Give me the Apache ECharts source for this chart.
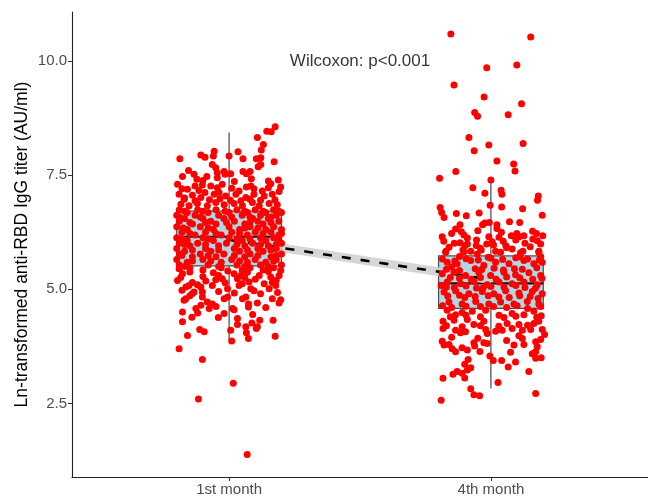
<!DOCTYPE html>
<html>
<head>
<meta charset="utf-8">
<script src="https://cdn.jsdelivr.net/npm/echarts@6/dist/echarts.min.js"></script>
<style>
  html, body { margin: 0; padding: 0; background: #fff; }
  #chart { width: 648px; height: 500px; }
</style>
</head>
<body>
<div id="chart"></div>
<script>
// groups and tick labels
const categories = ['1st month', '4th month'];
const yTicks = [2.5, 5.0, 7.5, 10.0];

// box stats: [x, whiskerLow, q1, median, q3, whiskerHigh]
const boxStats = [
  [1, 3.88, 5.51, 6.15, 6.71, 8.43],
  [2, 2.83, 4.58, 5.13, 5.73, 7.39]
];

// trend line through group means and its confidence band
const trendX = [1, 2];
const trendY = [6.08, 5.21];
const bandLow = [5.99, 5.11];
const bandHigh = [6.17, 5.31];

// jittered observations [x, y]
const month1Points = [
  [1.176,8.56],[1.144,8.46],[1.161,8.45],[1.108,8.32],[1.131,8.17],[1.123,8.05],
  [0.812,7.86],[0.892,7.94],[0.908,7.89],[0.943,8.02],[0.940,7.92],[1.000,7.92],[1.034,8.01],[1.053,7.86],[1.104,7.86],[1.121,7.88],[1.172,7.79],
  [0.845,7.60],[0.822,7.47],[0.866,7.52],[0.877,7.41],[0.915,7.47],[0.936,7.73],[0.949,7.66],[0.955,7.55],[0.981,7.58],[0.985,7.52],[1.006,7.53],[0.955,7.44],[1.053,7.58],[1.066,7.53],[1.080,7.58],[1.111,7.68],[1.121,7.73],[1.150,7.37],[1.188,7.39],[1.159,7.31],
  [0.803,7.30],[0.841,7.19],[0.870,7.26],[0.898,7.28],[0.930,7.26],[0.974,7.30],[1.010,7.21],[1.038,7.15],[1.066,7.24],[1.083,7.26],[1.127,7.15],[1.197,7.24],
  [1.020,7.36],[0.900,7.38],[1.085,7.42],[0.820,7.20],[0.885,7.16],[0.955,7.22],[1.095,7.20],[1.150,7.22],
  [0.809,7.08],[0.828,6.97],[0.860,7.06],[0.892,7.01],[0.908,7.12],[0.943,7.08],[0.962,7.12],[0.987,7.04],[1.026,7.08],[1.064,7.01],[1.095,7.08],[1.134,7.04],[1.165,7.08],[1.191,7.14],
  [0.830,7.00],[0.870,6.94],[0.925,6.96],[0.965,6.98],[1.005,6.95],[1.045,6.94],[1.080,6.97],[1.120,6.95],[1.175,6.96],
  [0.816,6.86],[0.847,6.83],[0.879,6.88],[0.917,6.83],[0.949,6.90],[0.981,6.85],[1.019,6.88],[1.051,6.83],[1.089,6.90],[1.115,6.83],[1.153,6.88],[1.184,6.85],
  [0.810,6.74],[0.880,6.74],[0.950,6.74],[1.030,6.74],[1.100,6.74],[1.170,6.74],
  [0.830,6.71],[0.900,6.71],[0.985,6.71],[1.060,6.71],[1.130,6.71],[1.190,6.71],
  [0.840,6.68],[0.920,6.68],[1.000,6.68],[1.070,6.68],[1.140,6.68],[1.200,6.68],
  [0.800,6.62],[0.870,6.62],[0.960,6.62],[1.050,6.62],[1.120,6.62],[1.180,6.62],
  [0.810,6.58],[0.890,6.58],[1.010,6.58],[1.080,6.58],[1.160,6.58],
  [0.830,6.55],[0.900,6.55],[0.980,6.55],[1.090,6.55],[1.150,6.55],
  [0.810,6.49],[0.930,6.49],[1.020,6.49],[1.110,6.49],[1.190,6.49],
  [0.850,6.46],[0.910,6.46],[0.990,6.46],[1.080,6.46],[1.160,6.46],
  [0.860,6.43],[0.950,6.43],[1.060,6.43],[1.130,6.43],
  [0.800,6.37],[0.890,6.37],[1.000,6.37],[1.080,6.37],[1.170,6.37],
  [0.825,6.34],[0.920,6.34],[1.060,6.34],[1.110,6.34],
  [0.840,6.31],[0.940,6.31],[1.040,6.31],[1.140,6.31],[1.200,6.31],
  [0.820,6.25],[0.910,6.25],[1.010,6.25],[1.100,6.25],[1.160,6.25],
  [0.850,6.22],[0.950,6.22],[1.040,6.22],[1.130,6.22],[1.200,6.22],
  [0.870,6.19],[0.970,6.19],[1.070,6.19],[1.190,6.19],
  [0.800,6.13],[0.900,6.13],[1.000,6.13],[1.120,6.13],[1.170,6.13],
  [0.820,6.10],[0.920,6.10],[1.030,6.10],[1.080,6.10],[1.190,6.10],
  [0.840,6.07],[0.940,6.07],[1.050,6.07],[1.140,6.07],
  [0.810,6.01],[0.880,6.01],[0.990,6.01],[1.090,6.01],[1.200,6.01],
  [0.830,5.98],[0.910,5.98],[1.030,5.98],[1.120,5.98],[1.180,5.98],
  [0.850,5.95],[0.960,5.95],[1.060,5.95],[1.150,5.95],
  [0.800,5.89],[0.910,5.89],[1.020,5.89],[1.110,5.89],[1.180,5.89],
  [0.860,5.86],[0.960,5.86],[1.070,5.86],[1.160,5.86],
  [0.830,5.83],[0.930,5.83],[1.040,5.83],[1.130,5.83],
  [0.810,5.77],[0.890,5.77],[0.980,5.77],[1.080,5.77],[1.200,5.77],
  [0.820,5.74],[0.920,5.74],[1.020,5.74],[1.110,5.74],[1.180,5.74],
  [0.860,5.71],[0.950,5.71],[1.060,5.71],[1.160,5.71],
  [0.800,5.65],[0.900,5.65],[1.010,5.65],[1.100,5.65],[1.180,5.65],
  [0.860,5.62],[0.930,5.62],[1.040,5.62],[1.170,5.62],
  [0.840,5.59],[0.970,5.59],[1.070,5.59],[1.140,5.59],
  [0.810,5.53],[0.920,5.53],[1.030,5.53],[1.120,5.53],[1.200,5.53],
  [0.830,5.50],[0.960,5.50],[1.060,5.50],[1.150,5.50],
  [0.850,5.47],[0.970,5.47],[1.080,5.47],[1.170,5.47],[0.900,5.42],[1.050,5.42],[1.130,5.42],
  [0.850,5.38],[0.940,5.36],[0.995,5.40],[1.070,5.37],[1.150,5.39],
  [0.815,5.26],[0.900,5.28],[0.960,5.30],[1.060,5.26],[1.100,5.22],[1.180,5.20],
  [0.860,5.15],[0.985,5.14],[1.050,5.12],[1.165,5.15],
  [0.803,5.19],[0.809,5.45],[0.822,5.34],[0.835,5.05],[0.847,5.08],[0.866,4.94],[0.892,5.05],[0.879,5.10],[0.898,4.94],[0.911,5.18],[0.936,5.08],[0.949,5.21],[0.974,5.23],[0.994,5.01],
  [1.019,5.34],[1.032,5.23],[1.045,5.30],[1.038,5.08],[1.076,5.16],[1.083,5.01],[1.095,4.97],[1.115,5.30],[1.134,5.12],[1.153,5.01],[1.159,5.27],[1.178,5.08],[1.191,5.30],[1.197,5.41],
  [0.820,4.98],[0.960,4.95],[1.020,4.92],[1.120,4.90],[1.185,4.93],[0.850,4.86],
  [0.828,4.76],[0.835,4.79],[0.860,4.91],[0.898,4.83],[0.917,4.72],[0.936,4.68],[0.892,4.65],[0.873,4.58],[0.924,4.58],[0.981,4.79],[0.994,4.83],[1.051,4.79],[1.064,4.83],[1.074,4.68],[1.074,4.61],[1.108,4.70],[1.165,4.79],[1.191,4.70],[1.197,4.77],
  [0.950,4.62],[1.140,4.60],[1.090,4.45],[0.880,4.48],
  [0.822,4.50],[0.822,4.29],[0.858,4.39],[0.959,4.38],[0.981,4.47],[1.013,4.58],[1.019,4.55],[1.032,4.36],[1.032,4.23],[1.117,4.32],[1.168,4.32],
  [0.841,3.99],[0.888,4.12],[0.905,4.07],[1.006,4.10],[1.010,3.87],[1.064,4.18],[1.066,4.05],[1.074,3.92],[1.087,4.26],[1.104,4.14],[1.108,4.18],[1.176,3.97],
  [0.809,3.70],[0.898,3.46],[0.883,2.60],[1.016,2.94],[1.069,1.38]
];

const month4Points = [
  [1.847,10.59],[2.152,10.52],[1.984,9.85],[2.099,9.91],[1.859,9.47],[1.974,9.21],[2.117,9.06],[1.938,8.87],[1.949,8.79],[2.066,8.82],
  [1.916,8.32],[1.992,8.16],[2.123,8.19],[1.936,8.03],[2.023,7.81],[2.087,7.74],
  [1.804,7.43],[1.866,7.58],[2.092,7.59],[2.000,7.39],[1.931,7.22],[2.039,7.17],[2.042,7.08],[1.977,7.10],[2.181,7.04],[2.178,6.95],
  [1.806,6.79],[1.812,6.68],[1.821,6.57],[1.868,6.66],[1.906,6.61],[1.955,6.67],[1.997,6.84],[2.041,6.80],[2.121,6.76],[2.196,6.62],
  [1.882,6.41],[1.968,6.41],[1.977,6.45],[1.994,6.46],[2.023,6.41],[2.023,6.33],[2.071,6.48],[2.110,6.46],
  [1.865,6.32],[1.887,6.26],[1.897,6.19],[1.910,6.12],[1.814,6.15],[1.860,6.01],[1.882,6.02],[1.910,5.99],[1.944,5.96],[1.984,5.99],[1.992,6.15],[2.031,6.14],[2.047,6.05],[2.057,5.95],
  [2.078,6.17],[2.099,6.22],[2.108,6.15],[2.126,6.17],[2.130,6.01],[2.159,6.27],[2.174,6.22],[2.198,6.17],[2.177,6.06],[2.190,5.99],
  [1.850,6.22],[1.950,6.28],[2.040,6.25],[1.820,6.05],[1.945,6.08],[2.005,6.04],[2.095,6.08],[2.160,6.10],
  [1.840,5.92],[1.900,5.95],[1.960,5.90],[2.010,5.97],[2.060,5.91],[2.150,5.93],
  [1.828,5.83],[1.893,5.86],[1.923,5.83],[1.963,5.86],[2.018,5.83],[2.081,5.88],[2.122,5.83],[2.183,5.83],
  [1.827,5.81],[1.897,5.82],[1.948,5.77],[2.037,5.81],[2.113,5.80],[2.183,5.81],
  [1.880,5.72],[1.990,5.70],[2.110,5.71],[2.190,5.72],
  [1.815,5.66],[1.862,5.62],[1.905,5.67],[1.952,5.64],[2.000,5.68],[2.045,5.65],[2.095,5.69],[2.140,5.66],[2.185,5.64],
  [1.833,5.59],[1.871,5.56],[1.923,5.63],[1.973,5.52],[2.018,5.59],[2.069,5.56],[2.126,5.63],[2.164,5.56],[2.196,5.59],
  [1.850,5.49],[1.940,5.45],[2.090,5.45],
  [1.830,5.44],[1.880,5.41],[1.965,5.43],[2.012,5.46],[2.048,5.42],[2.120,5.44],[2.175,5.47],
  [1.814,5.34],[1.859,5.37],[1.903,5.30],[1.954,5.36],[1.999,5.30],[2.050,5.37],[2.094,5.32],[2.145,5.36],[2.190,5.30],
  [1.845,5.26],[1.925,5.22],[1.960,5.26],[2.060,5.27],[2.110,5.25],[2.195,5.24],
  [1.880,5.24],[2.020,5.22],[2.160,5.22],
  [1.833,5.16],[1.884,5.12],[1.935,5.17],[1.986,5.10],[2.031,5.16],[2.081,5.12],[2.126,5.16],[2.177,5.10],
  [1.810,5.08],[1.860,5.04],[1.905,5.07],[1.945,5.03],[2.000,5.06],[2.050,5.05],[2.095,5.08],[2.170,5.02],
  [1.830,5.05],[1.970,5.03],[2.130,5.04],
  [1.821,4.94],[1.865,4.97],[1.916,4.90],[1.967,4.95],[2.011,4.90],[2.056,4.97],[2.107,4.92],[2.158,4.95],[2.196,4.90],
  [1.835,4.85],[1.880,4.87],[1.940,4.84],[1.990,4.86],[2.030,4.83],[2.110,4.86],[2.150,4.84],
  [1.900,4.82],[2.070,4.82],[2.180,4.80],
  [1.840,4.72],[1.890,4.68],[1.942,4.73],[1.992,4.68],[2.037,4.72],[2.088,4.68],[2.139,4.73],[2.183,4.68],
  [1.815,4.64],[1.905,4.63],[2.010,4.62],[2.100,4.64],[2.190,4.62],
  [1.850,4.60],[1.960,4.62],[2.060,4.60],[2.140,4.58],
  [1.833,4.54],[1.865,4.44],[1.890,4.49],[1.929,4.52],[1.980,4.54],[2.031,4.43],[2.081,4.47],[2.126,4.44],[2.164,4.52],[2.192,4.42],
  [1.845,4.40],[1.905,4.43],[1.960,4.40],[2.050,4.38],[2.095,4.41],[2.175,4.39],
  [1.817,4.30],[1.859,4.32],[1.910,4.34],[1.935,4.23],[1.973,4.30],[2.062,4.25],[2.107,4.23],[2.164,4.25],[2.183,4.30],
  [1.830,4.20],[1.890,4.18],[1.960,4.20],[2.030,4.19],[2.140,4.21],
  [1.817,4.14],[1.865,4.10],[1.884,4.05],[1.903,4.07],[1.980,4.12],[2.018,4.08],[2.043,4.10],[2.081,4.14],[2.120,4.10],[2.152,4.12],[2.196,4.12],[2.205,4.01],[1.986,4.03],[2.107,3.98],
  [1.850,3.95],[1.950,3.93],[2.120,3.92],[2.190,3.90],
  [1.814,3.86],[1.821,3.78],[1.840,3.79],[1.852,3.70],[1.865,3.63],[1.890,3.72],[1.910,3.67],[1.935,3.83],[1.938,3.76],[1.958,3.64],[1.973,3.83],[1.986,3.81],
  [2.060,3.88],[2.088,3.78],[2.075,3.62],[2.126,3.79],[2.171,3.85],[2.177,3.74],[2.158,3.59],[2.171,3.63],
  [1.996,3.54],[2.009,3.44],[2.041,3.44],[2.094,3.41],[2.171,3.49],[2.192,3.50],[1.913,3.46],[1.900,3.36],[1.923,3.28],[1.910,3.23],[1.871,3.20],[1.855,3.14],[1.890,3.16],[1.900,3.06],
  [1.817,3.05],[2.066,3.30],[2.145,3.20],[2.027,2.96],[1.923,2.82],[1.935,2.69],[1.957,2.67],[2.171,2.72],[1.810,2.57]
];

const annotation = { x: 1.5, y: 10.0, text: 'Wilcoxon: p<0.001' };

const font = '"Liberation Sans", Arial, sans-serif';
const chart = echarts.init(document.getElementById('chart'));

const option = {
  animation: false,
  backgroundColor: '#fff',
  grid: { left: 72, right: 0, top: 12, bottom: 23 },
  xAxis: {
    type: 'value',
    min: 0.4,
    max: 2.6,
    splitLine: { show: false },
    axisLine: { show: true, lineStyle: { color: '#222', width: 1.1 } },
    axisTick: { show: true, customValues: [1, 2], length: 4, lineStyle: { color: '#333' } },
    axisLabel: {
      customValues: [1, 2],
      formatter: v => categories[Math.round(v) - 1],
      color: '#4d4d4d', fontSize: 15, fontFamily: font, margin: 5
    }
  },
  yAxis: {
    type: 'value',
    min: 0.89,
    max: 11.07,
    name: 'Ln-transformed anti-RBD IgG titer (AU/ml)',
    nameLocation: 'middle',
    nameGap: 41,
    nameMoveOverlap: false,
    nameTextStyle: { color: '#000', fontSize: 17.5, fontFamily: font },
    splitLine: { show: false },
    axisLine: { show: true, lineStyle: { color: '#222', width: 1.1 } },
    axisTick: { show: true, customValues: yTicks, length: 4, lineStyle: { color: '#333' } },
    axisLabel: {
      customValues: yTicks,
      formatter: v => v.toFixed(1),
      color: '#4d4d4d', fontSize: 15, fontFamily: font, margin: 5
    }
  },
  series: [
    {
      // boxes with whiskers
      type: 'custom',
      z: 1,
      data: boxStats,
      encode: { x: 0, y: [1, 2, 3, 4, 5] },
      renderItem: function (params, api) {
        const x = api.value(0);
        const half = api.size([0.4, 0])[0] / 2;
        const lo = api.coord([x, api.value(1)]);
        const q1 = api.coord([x, api.value(2)]);
        const md = api.coord([x, api.value(3)]);
        const q3 = api.coord([x, api.value(4)]);
        const hi = api.coord([x, api.value(5)]);
        return {
          type: 'group',
          children: [
            { type: 'line', shape: { x1: lo[0], y1: lo[1], x2: hi[0], y2: hi[1] },
              style: { stroke: '#222', lineWidth: 1 } },
            { type: 'rect', shape: { x: q3[0] - half, y: q3[1], width: half * 2, height: q1[1] - q3[1] },
              style: { fill: '#add8e6', stroke: '#4d4d4d', lineWidth: 1.2 } },
            { type: 'line', shape: { x1: md[0] - half, y1: md[1], x2: md[0] + half, y2: md[1] },
              style: { stroke: '#111', lineWidth: 2.2 } }
          ]
        };
      }
    },
    {
      // confidence band
      type: 'custom',
      z: 2,
      data: trendX.map((x, i) => [x, bandLow[i], bandHigh[i]]),
      encode: { x: 0, y: [1, 2] },
      renderItem: function (params, api) {
        if (params.dataIndex !== 0) return;
        const upper = trendX.map((x, i) => api.coord([x, bandHigh[i]]));
        const lower = trendX.map((x, i) => api.coord([x, bandLow[i]])).reverse();
        return {
          type: 'polygon',
          shape: { points: upper.concat(lower) },
          style: { fill: '#cfcfcf', opacity: 0.85 }
        };
      }
    },
    {
      type: 'line',
      z: 3,
      data: trendX.map((x, i) => [x, trendY[i]]),
      symbol: 'none',
      lineStyle: { color: '#000', width: 2.6, type: [9, 10] }
    },
    {
      type: 'scatter',
      z: 4,
      data: month1Points,
      symbolSize: 7,
      itemStyle: { color: '#ff0000', opacity: 1 }
    },
    {
      type: 'scatter',
      z: 4,
      data: month4Points,
      symbolSize: 7,
      itemStyle: { color: '#ff0000', opacity: 1 }
    },
    {
      type: 'scatter',
      z: 5,
      data: [[annotation.x, annotation.y]],
      symbolSize: 1,
      itemStyle: { color: 'rgba(0,0,0,0)' },
      label: {
        show: true,
        position: 'inside',
        formatter: annotation.text,
        color: '#000',
        fontSize: 17,
        fontFamily: font
      }
    }
  ]
};

chart.setOption(option);
window.addEventListener('resize', function () {
  chart.resize();
});
</script>
</body>
</html>
